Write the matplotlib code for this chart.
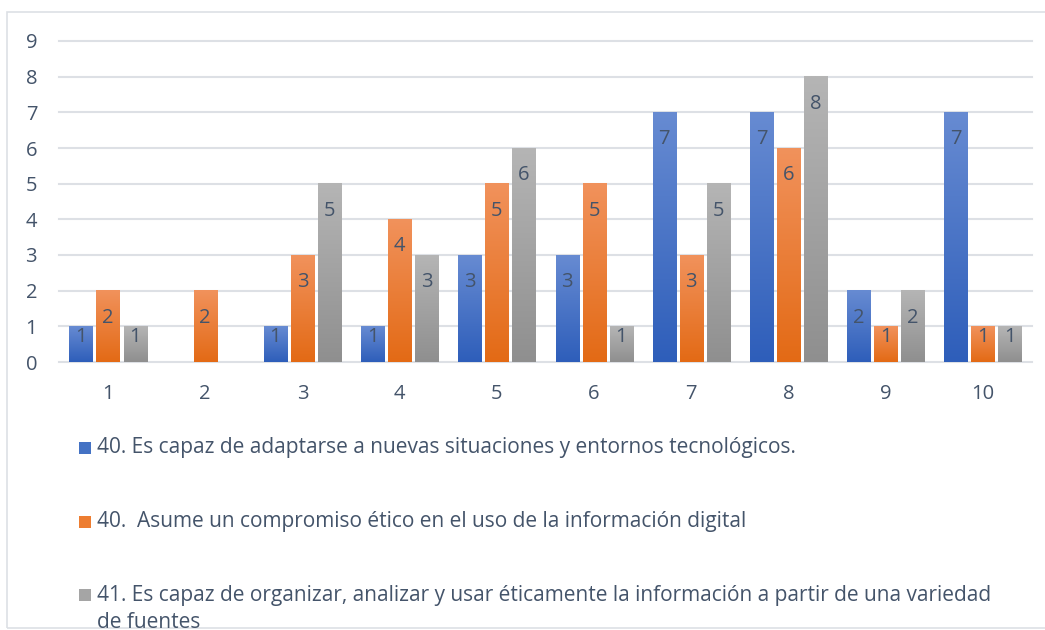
import matplotlib
matplotlib.use("Agg")
import matplotlib.pyplot as plt
import numpy as np
from matplotlib.patches import Rectangle
from matplotlib.colors import LinearSegmentedColormap

# ---- data ----
categories = ["1", "2", "3", "4", "5", "6", "7", "8", "9", "10"]
serie_40_adapta = [1, 0, 1, 1, 3, 3, 7, 7, 2, 7]
serie_40_etico = [2, 2, 3, 4, 5, 5, 3, 6, 1, 1]
serie_41_organiza = [1, 0, 5, 3, 6, 1, 5, 8, 2, 1]
legend_lines = [
    ["40. Es capaz de adaptarse a nuevas situaciones y entornos tecnológicos."],
    ["40.  Asume un compromiso ético en el uso de la información digital"],
    ["41. Es capaz de organizar, analizar y usar éticamente la información a partir de una variedad",
     "de fuentes"],
]
y_ticks = [0, 1, 2, 3, 4, 5, 6, 7, 8, 9]

# ---- style ----
FONT = ["Open Sans", "DejaVu Sans"]
plt.rcParams["font.family"] = FONT
TXT = "#44546A"
GRID = "#DDE0E5"
grads = [("#2E5EBA", "#678BD2"), ("#E36A15", "#F1925C"), ("#8F8F8F", "#B5B5B5")]
solid = ["#4472C4", "#ED7D31", "#A5A5A5"]

W, H = 1045, 630
fig = plt.figure(figsize=(W / 100, H / 100), dpi=100)
fig.patch.set_facecolor("white")

ax_left, ax_right = 59.4, 1031.6
ax_top, ax_bot = 41, 362
ax = fig.add_axes([ax_left / W, 1 - ax_bot / H, (ax_right - ax_left) / W, (ax_bot - ax_top) / H])

x = np.arange(len(categories))
step = 0.278
width = 0.237
all_series = [serie_40_adapta, serie_40_etico, serie_41_organiza]

grad = np.linspace(0, 1, 256).reshape(-1, 1)
for i, vals in enumerate(all_series):
    cmap = LinearSegmentedColormap.from_list(f"g{i}", list(grads[i]))
    bars = ax.bar(x + (i - 1) * step, vals, width=width, color="none", edgecolor="none", zorder=2)
    for b, v in zip(bars, vals):
        if v <= 0:
            continue
        x0, y0 = b.get_x(), b.get_y()
        ax.imshow(grad, extent=[x0, x0 + b.get_width(), y0, y0 + b.get_height()],
                  origin="lower", aspect="auto", cmap=cmap, zorder=2, clip_path=b,
                  interpolation="bilinear")
        off = -27 if v >= 2 else -11
        ax.annotate(str(v), (b.get_x() + b.get_width() / 2, v), xytext=(0, off),
                    textcoords="offset pixels", ha="center", va="center",
                    fontsize=14.5, color=TXT, zorder=3)

ax.set_xlim(-0.5, len(categories) - 0.5)
ax.set_ylim(0, 9)
ax.set_yticks(y_ticks)
ax.set_xticks(x)
ax.set_xticklabels(categories)
ax.tick_params(axis="both", length=0, labelsize=14.5, labelcolor=TXT)
ax.tick_params(axis="y", pad=16)
ax.tick_params(axis="x", pad=16)
for s in ax.spines.values():
    s.set_visible(False)
ax.yaxis.grid(True, color=GRID, linewidth=1.5)
ax.set_axisbelow(True)
for gl in ax.get_ygridlines():
    gl.set_clip_on(False)

# ---- outer border ----
border = Rectangle((7 / W, 1 - 628 / H), 1.05, (628 - 12) / H, transform=fig.transFigure,
                   facecolor="none", edgecolor=GRID, linewidth=1.2)
fig.patches.append(border)

# ---- legend (manual) ----
row_y = [448, 522, 595]
line_gap = 27
for i, lines in enumerate(legend_lines):
    yc = row_y[i]
    fig.patches.append(Rectangle((79 / W, 1 - (yc + 6) / H), 12 / W, 12 / H,
                                 transform=fig.transFigure, facecolor=solid[i], edgecolor="none"))
    for j, ln in enumerate(lines):
        t = fig.text(97 / W, 1 - (yc + j * line_gap) / H, ln, ha="left", va="center",
                     fontsize=15, color=TXT)
        t.set_clip_path(border)

fig.savefig("out.png", dpi=100)
